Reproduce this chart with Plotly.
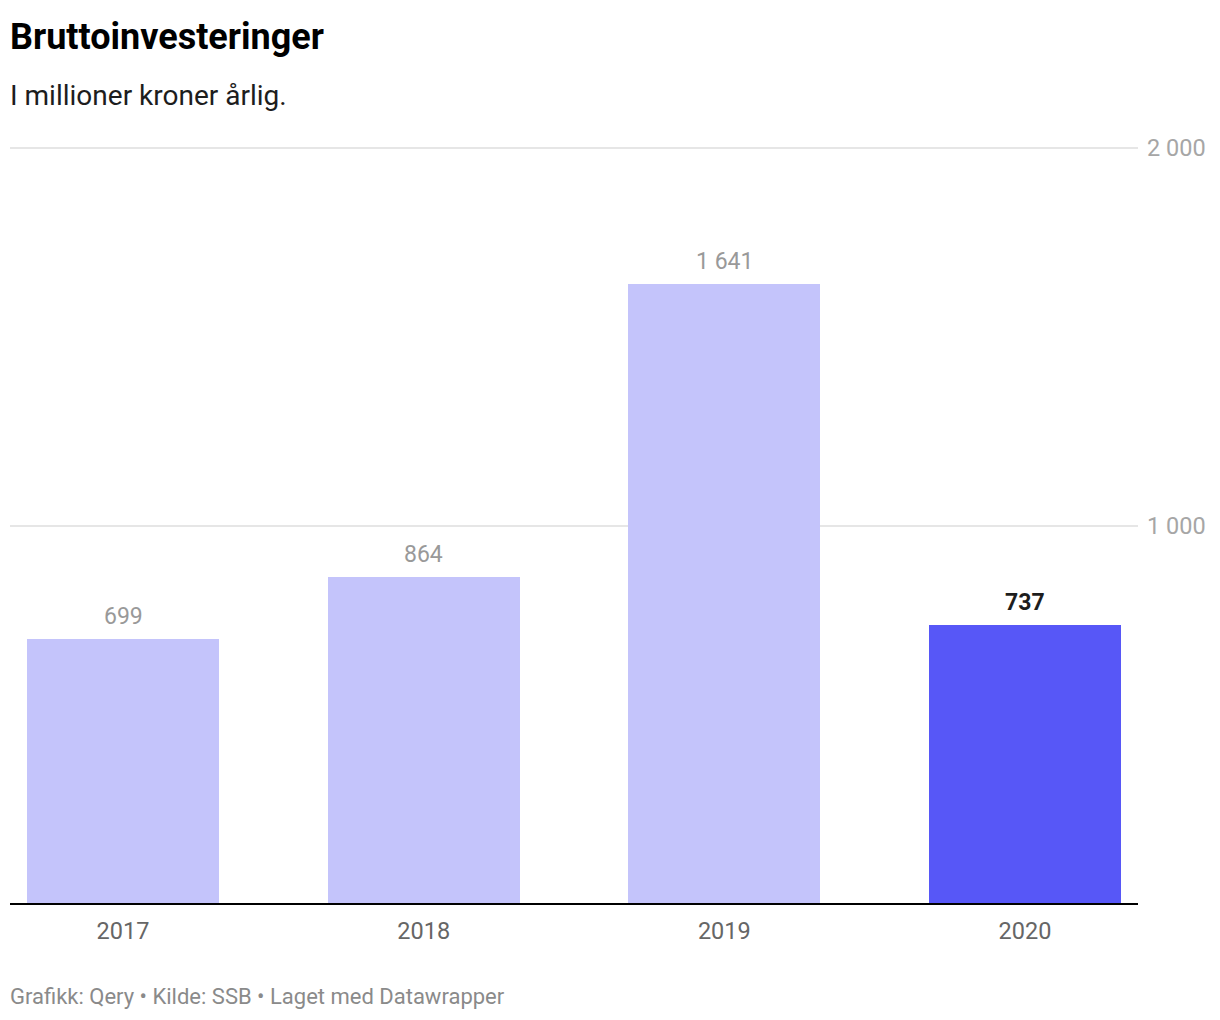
import plotly.graph_objects as go

years = ["2017", "2018", "2019", "2020"]
values = [699, 864, 1641, 737]
highlight = [False, False, False, True]
y_ticks = [1000, 2000]

title = "Bruttoinvesteringer"
subtitle = "I millioner kroner årlig."
footer = "Grafikk: Qery • Kilde: SSB • Laget med Datawrapper"

LIGHT = "#c4c4fb"
DARK = "#5757f7"

def fmt(v):
    return f"{v:,}".replace(",", " ")

colors = [DARK if h else LIGHT for h in highlight]

fig = go.Figure()
fig.add_trace(go.Bar(
    x=years, y=values, marker=dict(color=colors, line=dict(width=0)),
    width=0.639, hoverinfo="skip",
))

# page pixels: plot top 148, bottom 903 (figure is offset by 8px body margin)
H = 903 - 148
def py(p):
    return (903 - p) / H

annotations = []
for i, (yr, v, h) in enumerate(zip(years, values, highlight)):
    annotations.append(dict(
        x=i, y=v, xref="x", yref="y", text=(f"<b>{fmt(v)}</b>" if h else fmt(v)),
        showarrow=False, yanchor="bottom", yshift=7,
        font=dict(family="Roboto", size=23, color="#1d1d1d" if h else "#999999"),
    ))

annotations += [
    dict(text=f"<b>{title}</b>", x=0, xref="paper", y=py(38), yref="paper",
         xanchor="left", yanchor="middle", showarrow=False, xshift=-2,
         font=dict(family="Roboto", size=36, color="#000000")),
    dict(text=subtitle, x=0, xref="paper", y=py(97), yref="paper",
         xanchor="left", yanchor="middle", showarrow=False, xshift=-2,
         font=dict(family="Roboto", size=28, color="#1d1d1d")),
    dict(text=footer, x=0, xref="paper", y=py(996), yref="paper",
         xanchor="left", yanchor="middle", showarrow=False, xshift=-2,
         font=dict(family="Roboto", size=22, color="#8a8a8a")),
]

fig.update_layout(
    width=1220, height=1020,
    margin=dict(l=2, r=90, t=139, b=125),
    paper_bgcolor="white", plot_bgcolor="white",
    showlegend=False, separators=". ",
    font=dict(family="Roboto"),
    annotations=annotations,
    bargap=0,
)
fig.update_xaxes(
    type="category", range=[-0.376, 3.376],
    showline=True, linecolor="#000000", linewidth=1.5,
    ticks="outside", ticklen=6, tickcolor="rgba(0,0,0,0)",
    tickfont=dict(family="Roboto", size=23.5, color="#666666"),
    showgrid=False, fixedrange=True,
)
fig.update_yaxes(
    range=[0, 2003], side="right", tickvals=y_ticks,
    tickformat=",d",
    showgrid=True, gridcolor="#e6e6e6", gridwidth=1.5,
    zeroline=False, showline=False,
    tickfont=dict(family="Roboto", size=23.5, color="#a6a6a6"),
    ticklabelstandoff=8, fixedrange=True,
)

fig.write_html("out.html")
